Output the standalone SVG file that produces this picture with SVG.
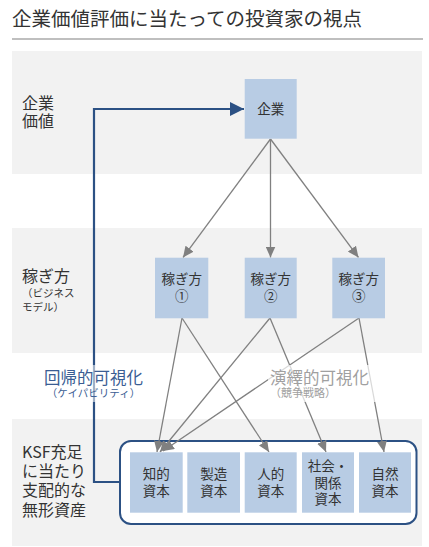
<svg xmlns="http://www.w3.org/2000/svg" width="429" height="547" viewBox="0 0 429 547">
<style>
text{font-family:"Noto Sans CJK JP","Noto Sans",sans-serif;fill:#333}
.band{fill:#f2f2f2}
.box{fill:#b8cce4}
.nt{font-size:13.5px;text-anchor:middle;fill:#333}
.lt{font-size:16px}
.sm{font-size:10.5px}
.gl{stroke:#808080;stroke-width:1.3;fill:none;marker-end:url(#ga)}
</style>
<defs>
<marker id="ga" markerUnits="userSpaceOnUse" markerWidth="11" markerHeight="10" refX="11" refY="5" orient="auto">
<path d="M0,0 L11,5 L0,10 z" fill="#808080"/>
</marker>
<marker id="ba" markerUnits="userSpaceOnUse" markerWidth="14" markerHeight="14" refX="14" refY="7" orient="auto">
<path d="M0,0 L14,7 L0,14 z" fill="#2c5184"/>
</marker>
</defs>
<g id="title">
<text x="12" y="26" style="font-size:19.5px">企業価値評価に当たっての投資家の視点</text>
<line x1="12" y1="39" x2="423" y2="39" stroke="#aaa" stroke-width="1.5"/>
</g>
<g id="bands">
<rect class="band" x="12" y="51" width="410" height="123"/>
<rect class="band" x="12" y="228" width="410" height="125"/>
<rect class="band" x="12" y="419" width="410" height="127"/>
</g>
<g id="row-labels">
<text class="lt" x="22" y="108.5">企業</text>
<text class="lt" x="22" y="127">価値</text>
<text class="lt" x="22" y="281.5">稼ぎ方</text>
<text class="sm" x="22" y="297">（ビジネス</text>
<text class="sm" x="22" y="311">モデル）</text>
<text class="lt" x="22" y="457.5">KSF充足</text>
<text class="lt" x="22" y="476.5">に当たり</text>
<text class="lt" x="22" y="496">支配的な</text>
<text class="lt" x="22" y="516">無形資産</text>
</g>
<g id="container">
<rect x="120" y="441" width="296.5" height="83" rx="11" fill="#fff" stroke="#2c5184" stroke-width="2"/>
</g>
<g id="connectors">
<polyline points="120,482 94,482 94,109 244,109" fill="none" stroke="#2c5184" stroke-width="2.2" marker-end="url(#ba)"/>
<line class="gl" x1="270.5" y1="139" x2="183" y2="257.5"/>
<line class="gl" x1="270.5" y1="139" x2="270.5" y2="257.5"/>
<line class="gl" x1="270.5" y1="139" x2="358.5" y2="257.5"/>
<line class="gl" x1="182" y1="318" x2="157" y2="452"/>
<line class="gl" x1="182" y1="318" x2="269" y2="452"/>
<line class="gl" x1="270" y1="318" x2="160" y2="452"/>
<line class="gl" x1="270" y1="318" x2="326" y2="452"/>
<line class="gl" x1="359" y1="318" x2="163" y2="451"/>
<line class="gl" x1="359" y1="318" x2="384" y2="452"/>
</g>
<g id="label-inductive">
<rect x="42" y="365" width="103" height="37" fill="#fff" fill-opacity="0.55"/>
<text x="93.5" y="383.7" text-anchor="middle" style="font-size:16.5px;fill:#3a5d93">回帰的可視化</text>
<text x="93.5" y="397" text-anchor="middle" class="sm" style="fill:#3a5d93">（ケイパビリティ）</text>
</g>
<g id="label-deductive">
<rect x="268" y="365" width="134" height="37" fill="#fff" fill-opacity="0.7"/>
<text x="270" y="383.7" style="font-size:16.5px;fill:#a0a0a0">演繹的可視化</text>
<text x="270" y="397" style="font-size:11px;fill:#a0a0a0">（競争戦略）</text>
</g>
<g id="node-kigyo">
<rect class="box" x="244.7" y="79" width="52" height="59.7"/>
<text class="nt" x="270.7" y="113.5">企業</text>
</g>
<g id="node-kasegi1">
<rect class="box" x="155" y="257.7" width="53.3" height="60.6"/>
<text class="nt" x="181.7" y="284">稼ぎ方</text>
<text class="nt" x="181.7" y="301">①</text>
</g>
<g id="node-kasegi2">
<rect class="box" x="244.7" y="257.7" width="52" height="60.6"/>
<text class="nt" x="270.7" y="284">稼ぎ方</text>
<text class="nt" x="270.7" y="301">②</text>
</g>
<g id="node-kasegi3">
<rect class="box" x="332.3" y="257.7" width="52.7" height="60.6"/>
<text class="nt" x="358.7" y="284">稼ぎ方</text>
<text class="nt" x="358.7" y="301">③</text>
</g>
<g id="node-chiteki">
<rect class="box" x="130" y="452.3" width="52.7" height="60.4"/>
<text class="nt" x="156.3" y="478.5">知的</text>
<text class="nt" x="156.3" y="496">資本</text>
</g>
<g id="node-seizo">
<rect class="box" x="187.3" y="452.3" width="52.7" height="60.4"/>
<text class="nt" x="213.7" y="478.5">製造</text>
<text class="nt" x="213.7" y="496">資本</text>
</g>
<g id="node-jinteki">
<rect class="box" x="244.7" y="452.3" width="52" height="60.4"/>
<text class="nt" x="270.7" y="478.5">人的</text>
<text class="nt" x="270.7" y="496">資本</text>
</g>
<g id="node-shakai">
<rect class="box" x="302" y="452.3" width="52" height="60.4"/>
<text class="nt" x="328" y="471">社会・</text>
<text class="nt" x="328" y="487.5">関係</text>
<text class="nt" x="328" y="504">資本</text>
</g>
<g id="node-shizen">
<rect class="box" x="359" y="452.3" width="52" height="60.4"/>
<text class="nt" x="385" y="478.5">自然</text>
<text class="nt" x="385" y="496">資本</text>
</g>
</svg>
